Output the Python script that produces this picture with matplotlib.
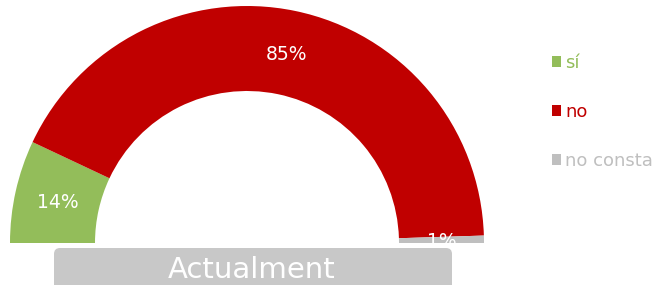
import matplotlib
matplotlib.use('Agg')
import matplotlib.pyplot as plt
from matplotlib.patches import FancyBboxPatch

categories = ['sí', 'no', 'no consta']
values = [14, 85, 1]
colors = ['#93bd5a', '#c00000', '#bfbfbf']
title = 'Actualment'

fig = plt.figure(figsize=(6.6, 2.85), dpi=100)
ax = fig.add_axes([0, 0, 1, 1])

total = sum(values)
# hidden bottom half makes the pie a half donut
wedges, _, autotexts = ax.pie(
    values + [total], colors=colors + ['none'],
    startangle=180, counterclock=False,
    radius=237, center=(247, 42),
    wedgeprops=dict(width=85, linewidth=0),
    autopct=lambda p: f'{p * 2:.0f}%' if p < 49 else '',
    pctdistance=0.82,
    textprops=dict(color='white', fontsize=13.5, family='DejaVu Sans'))
for t in autotexts:
    t.set_va('center_baseline')

ax.set_xlim(0, 660)
ax.set_ylim(0, 285)
ax.set_aspect('auto')
ax.axis('off')

# label box under the gauge
ax.add_patch(FancyBboxPatch((54, -20), 398, 57,
                            boxstyle='round,pad=0,rounding_size=6',
                            facecolor='#c8c8c8', edgecolor='none'))
ax.text(252, 15, title, color='white', fontsize=21,
        ha='center', va='center', family='DejaVu Sans')

leg = ax.legend(wedges[:3], categories, loc='upper left',
                bbox_to_anchor=(0.822, 0.842), frameon=False,
                fontsize=13, handlelength=0.55, handleheight=0.55,
                handletextpad=0.2, labelspacing=1.72, borderpad=0)
for txt, c in zip(leg.get_texts(), colors):
    txt.set_color(c)

fig.savefig('out.png', dpi=100)
